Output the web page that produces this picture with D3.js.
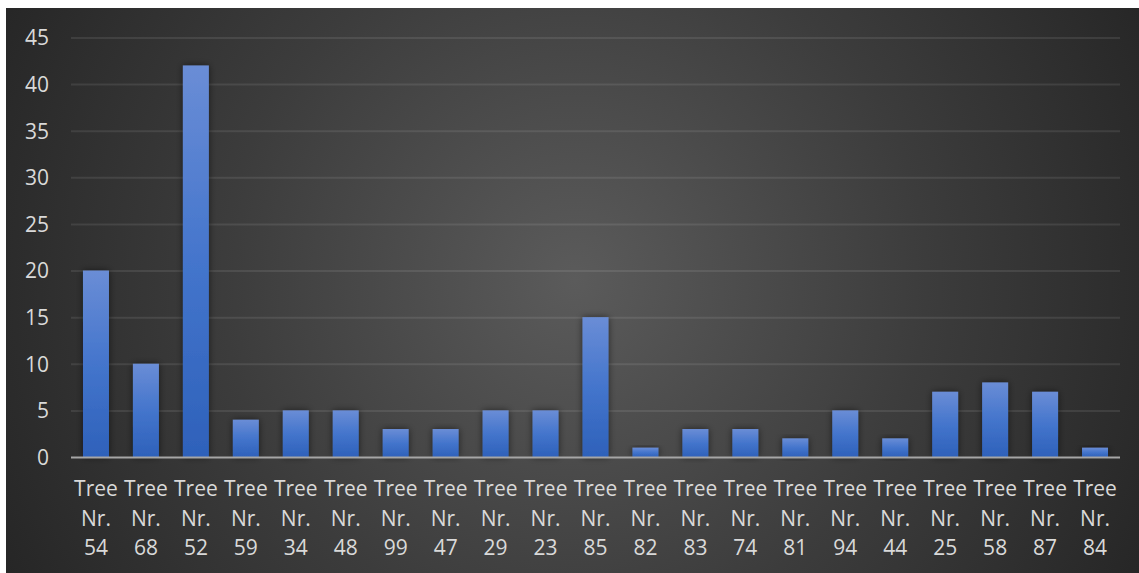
<!DOCTYPE html>
<html><head><meta charset="utf-8">
<script src="https://cdn.jsdelivr.net/npm/d3@7"></script>
<style>html,body{margin:0;padding:0;background:#fff;}svg{display:block;}</style>
</head><body>
<script>
const categories = ["Tree Nr. 54","Tree Nr. 68","Tree Nr. 52","Tree Nr. 59","Tree Nr. 34","Tree Nr. 48","Tree Nr. 99","Tree Nr. 47","Tree Nr. 29","Tree Nr. 23","Tree Nr. 85","Tree Nr. 82","Tree Nr. 83","Tree Nr. 74","Tree Nr. 81","Tree Nr. 94","Tree Nr. 44","Tree Nr. 25","Tree Nr. 58","Tree Nr. 87","Tree Nr. 84"];
const values = [20,10,42,4,5,5,3,3,5,5,15,1,3,3,2,5,2,7,8,7,1];
const yTicks = [0,5,10,15,20,25,30,35,40,45];

const W = 1139, H = 573;
const svg = d3.select("body").append("svg").attr("width", W).attr("height", H);
const defs = svg.append("defs");
const rg = defs.append("radialGradient").attr("id","bg").attr("gradientUnits","userSpaceOnUse")
  .attr("cx",575).attr("cy",280).attr("r",640);
rg.append("stop").attr("offset","0").attr("stop-color","#5b5b5b");
rg.append("stop").attr("offset","0.55").attr("stop-color","#3c3c3c");
rg.append("stop").attr("offset","1").attr("stop-color","#262626");
const bgr = defs.append("linearGradient").attr("id","bar").attr("x1",0).attr("y1",0).attr("x2",0).attr("y2",1);
bgr.append("stop").attr("offset","0").attr("stop-color","#6a8dd6");
bgr.append("stop").attr("offset","0.5").attr("stop-color","#4475cc");
bgr.append("stop").attr("offset","1").attr("stop-color","#2e61ba");
const f = defs.append("filter").attr("id","sh").attr("x","-50%").attr("y","-20%").attr("width","200%").attr("height","140%");
f.append("feDropShadow").attr("dx",0).attr("dy",0).attr("stdDeviation",3.5).attr("flood-color","#000").attr("flood-opacity",0.55);

svg.append("rect").attr("x",6).attr("y",8).attr("width",W-6).attr("height",H-8).attr("fill","url(#bg)");

const x = d3.scaleBand().domain(categories).range([71,1120]).paddingInner(0.48).paddingOuter(0.24);
const y = d3.scaleLinear().domain([0,45]).range([457,37.5]);

const grid = svg.append("g").attr("transform","translate(0,0)")
  .call(d3.axisLeft(y).tickValues(yTicks.filter(d=>d>0)).tickSize(-(1120-71)).tickFormat(""))
  .attr("transform","translate(71,0)");
grid.select(".domain").remove();
grid.selectAll("line").attr("stroke","rgba(255,255,255,0.09)").attr("stroke-width",2);

const ya = svg.append("g").attr("transform","translate(49,0)")
  .call(d3.axisLeft(y).tickValues(yTicks).tickSize(0).tickPadding(0));
ya.select(".domain").remove();
ya.selectAll("text").attr("fill","#d9d9d9").style("font-family","'Open Sans', sans-serif").style("font-size","21px").attr("dy","0.35em");

svg.append("g").selectAll("rect").data(values).join("rect")
  .attr("x",(d,i)=>x(categories[i])).attr("width",x.bandwidth())
  .attr("y",d=>y(d)).attr("height",d=>y(0)-y(d))
  .attr("fill","url(#bar)").attr("filter","url(#sh)");

svg.append("line").attr("x1",71).attr("x2",1120).attr("y1",y(0)+0.5).attr("y2",y(0)+0.5)
  .attr("stroke","#a6a6a6").attr("stroke-width",2);

const xa = svg.append("g").attr("transform",`translate(0,${y(0)})`)
  .call(d3.axisBottom(x).tickSize(0).tickFormat(""));
xa.select(".domain").remove();
xa.selectAll(".tick").each(function(d){
  const parts = ["Tree","Nr.", d.split(" ")[2]];
  const t = d3.select(this).append("text").attr("fill","#d9d9d9").attr("text-anchor","middle")
    .style("font-family","'Open Sans', sans-serif").style("font-size","21px");
  parts.forEach((p,k)=>t.append("tspan").attr("x",0).attr("y",39+k*29.5).text(p));
});
</script>
</body></html>
